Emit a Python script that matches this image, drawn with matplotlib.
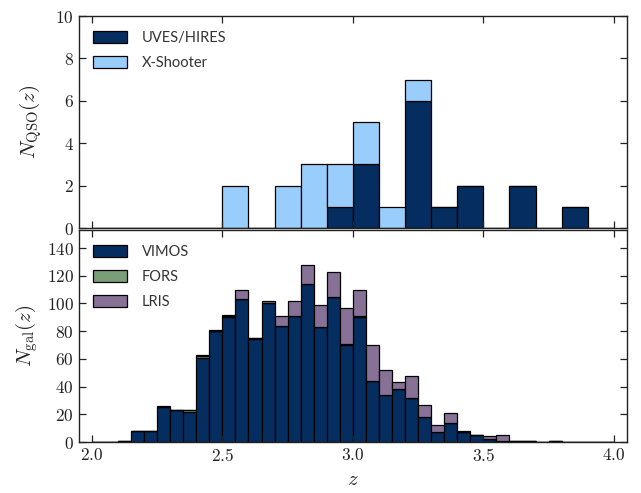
import numpy as np
import matplotlib
matplotlib.use("Agg")
import matplotlib.pyplot as plt
from matplotlib.ticker import FuncFormatter

plt.rcParams['mathtext.fontset'] = 'cm'
plt.rcParams['font.family'] = ['Lato', 'DejaVu Sans']

# ---- Data ----
# Top panel: QSO redshift bins of width 0.1 from 2.0 to 4.0
qso_bin_lo = [2.0, 2.1, 2.2, 2.3, 2.4, 2.5, 2.6, 2.7, 2.8, 2.9,
              3.0, 3.1, 3.2, 3.3, 3.4, 3.5, 3.6, 3.7, 3.8, 3.9]
uves_hires = [0, 0, 0, 0, 0, 0, 0, 0, 0, 1, 3, 0, 6, 1, 2, 0, 2, 0, 1, 0]
xshooter   = [0, 0, 0, 0, 0, 2, 0, 2, 3, 2, 2, 1, 1, 0, 0, 0, 0, 0, 0, 0]

# Bottom panel: galaxy redshift bins of width 0.05 from 2.0 to 4.0
gal_bin_lo = [2.00, 2.05, 2.10, 2.15, 2.20, 2.25, 2.30, 2.35, 2.40, 2.45,
              2.50, 2.55, 2.60, 2.65, 2.70, 2.75, 2.80, 2.85, 2.90, 2.95,
              3.00, 3.05, 3.10, 3.15, 3.20, 3.25, 3.30, 3.35, 3.40, 3.45,
              3.50, 3.55, 3.60, 3.65, 3.70, 3.75, 3.80, 3.85, 3.90, 3.95]
vimos = [0, 0, 1, 8, 8, 25, 23, 22, 61, 80,
         90, 103, 74, 100, 84, 91, 114, 83, 105, 70,
         90, 44, 34, 38, 32, 18, 7, 14, 7, 5,
         2, 1, 1, 1, 0, 1, 0, 0, 0, 0]
fors  = [0, 0, 0, 0, 0, 0, 0, 1, 1, 0,
         1, 0, 1, 0, 0, 0, 0, 0, 0, 1,
         1, 0, 0, 0, 0, 0, 0, 0, 0, 0,
         0, 0, 0, 0, 0, 0, 0, 0, 0, 0]
lris  = [0, 0, 0, 0, 0, 1, 0, 0, 1, 1,
         1, 7, 0, 2, 7, 11, 14, 16, 18, 26,
         19, 26, 18, 5, 16, 9, 5, 7, 1, 0,
         2, 4, 0, 0, 0, 0, 0, 0, 0, 0]

qso_labels = ['UVES/HIRES', 'X-Shooter']
gal_labels = ['VIMOS', 'FORS', 'LRIS']
xticks = [2.0, 2.5, 3.0, 3.5, 4.0]

c_navy = '#052d5f'
c_light = '#99cefc'
c_green = '#7a9f78'
c_purple = '#887196'

fig = plt.figure(figsize=(6.41, 4.93), dpi=100)
ax1 = fig.add_axes([0.123, 0.5375, 0.855, 0.43])
ax2 = fig.add_axes([0.123, 0.1034, 0.855, 0.43])

ekw = dict(edgecolor='black', linewidth=0.9, align='edge')

u = np.array(uves_hires)
x = np.array(xshooter)
ax1.bar(qso_bin_lo, u, width=0.1, color=c_navy, label=qso_labels[0], **ekw)
ax1.bar(qso_bin_lo, x, width=0.1, bottom=u, color=c_light, label=qso_labels[1], **ekw)

v = np.array(vimos); f = np.array(fors); l = np.array(lris)
ax2.bar(gal_bin_lo, v, width=0.05, color=c_navy, label=gal_labels[0], **ekw)
ax2.bar(gal_bin_lo, f, width=0.05, bottom=v, color=c_green, label=gal_labels[1], **ekw)
ax2.bar(gal_bin_lo, l, width=0.05, bottom=v + f, color=c_purple, label=gal_labels[2], **ekw)

ax1.set_xlim(1.95, 4.05)
ax2.set_xlim(1.95, 4.05)
ax1.set_ylim(0, 10)
ax2.set_ylim(0, 153)

ax1.set_yticks([0, 2, 4, 6, 8, 10])
ax2.set_yticks([0, 20, 40, 60, 80, 100, 120, 140])
for ax in (ax1, ax2):
    ax.set_xticks(xticks)
    ax.tick_params(direction='in', top=True, right=True, length=5, width=0.9,
                   labelsize=12.5, colors='#222222')
    ax.yaxis.set_major_formatter(FuncFormatter(lambda val, pos: r'$%d$' % val))
    for s in ax.spines.values():
        s.set_linewidth(1.0)
        s.set_color('#222222')
ax1.tick_params(labelbottom=False)
ax2.xaxis.set_major_formatter(FuncFormatter(lambda val, pos: r'$%.1f$' % val))

ax1.set_ylabel(r'$N_{\rm QSO}(z)$', fontsize=15, color='#222222', labelpad=8)
ax2.set_ylabel(r'$N_{\rm gal}(z)$', fontsize=15, color='#222222', labelpad=5)
ax2.set_xlabel(r'$z$', fontsize=15, color='#222222')

legkw = dict(loc='upper left', frameon=False, fontsize=10.5, handlelength=2.3,
             handleheight=0.9, labelspacing=0.75, handletextpad=1.0,
             borderaxespad=0.6, labelcolor='#333333')
ax1.legend(**legkw)
ax2.legend(**legkw)

fig.savefig('out.png', dpi=100)
